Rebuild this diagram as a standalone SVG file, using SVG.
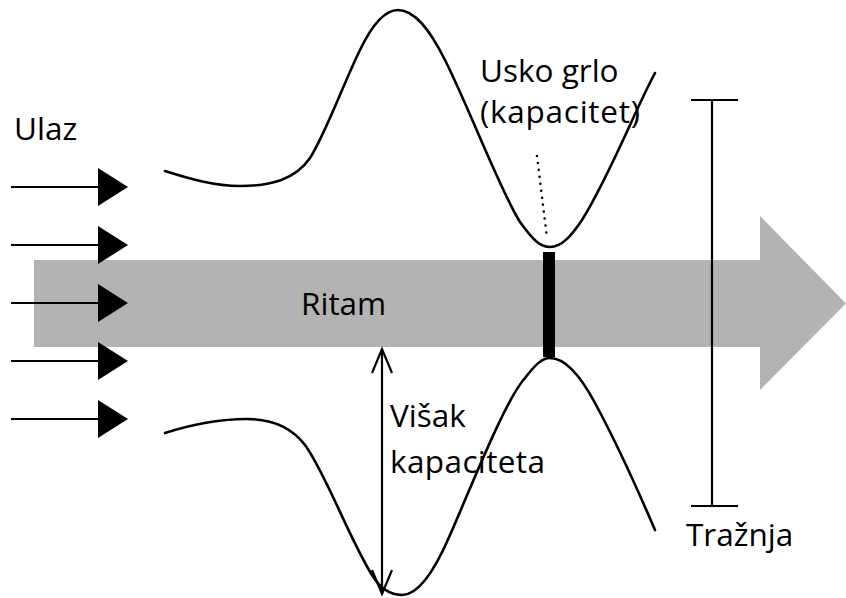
<svg xmlns="http://www.w3.org/2000/svg" width="846" height="598" viewBox="0 0 846 598">
<defs>
<style>
.t{font-family:"Open Sans","Liberation Sans",sans-serif;font-size:31.5px;fill:#000}
.ln{fill:none;stroke:#000;stroke-width:2.2}
.cv{fill:none;stroke:#000;stroke-width:2.6;stroke-linecap:round}
</style>
<polygon id="tri" points="0,-19 30,0 0,19" fill="#000"/>
</defs>
<rect width="846" height="598" fill="#fff"/>
<g id="flow">
<polygon points="34,260 760,260 760,216 846,303.5 760,390 760,347 34,347" fill="#b3b3b3"/>
<text class="t" x="301" y="315">Ritam</text>
</g>
<g id="inputs">
<line class="ln" x1="11" y1="187" x2="100" y2="187"/><use href="#tri" x="98" y="187"/>
<line class="ln" x1="11" y1="245" x2="100" y2="245"/><use href="#tri" x="98" y="245"/>
<line class="ln" x1="11" y1="303" x2="100" y2="303"/><use href="#tri" x="98" y="303"/>
<line class="ln" x1="11" y1="361" x2="100" y2="361"/><use href="#tri" x="98" y="361"/>
<line class="ln" x1="11" y1="419" x2="100" y2="419"/><use href="#tri" x="98" y="419"/>
<text class="t" x="14" y="140">Ulaz</text>
</g>
<g id="capacity">
<path class="cv" d="M165,171 C190,179 215,186 240,186 C270,186 295,180 310,158 C325,135 345,80 360,50 C372,25 385,10 398,10 C415,10 430,30 445,60 C470,110 500,190 520,222 C533,240 540,247 550,247 C562,247 572,235 582,220 C610,175 635,110 655,73"/>
<path class="cv" d="M165,433 C190,425 220,419 247,419 C272,419 292,428 305,445 C325,472 350,540 372,575 C380,588 390,595 402,595 C418,595 435,570 450,535 C470,490 505,400 525,378 C535,365 542,358 550,358 C565,358 580,375 595,403 C615,440 640,495 655,530"/>
</g>
<g id="bottleneck">
<rect x="543" y="252" width="12" height="105" fill="#000"/>
<line x1="537" y1="156" x2="547" y2="238" stroke="#000" stroke-width="2.6" stroke-dasharray="0 7" stroke-linecap="round"/>
<text class="t" x="480" y="82">Usko grlo</text>
<text class="t" x="480" y="123" textLength="160" lengthAdjust="spacing">(kapacitet)</text>
</g>
<g id="excess">
<line class="ln" x1="382" y1="349" x2="382" y2="594"/>
<polyline class="ln" points="372,373 382,349 392,373"/>
<polyline class="ln" points="372,570 382,594 392,570"/>
<text class="t" x="390" y="427">Višak</text>
<text class="t" x="390" y="473" textLength="155" lengthAdjust="spacing">kapaciteta</text>
</g>
<g id="demand">
<line class="ln" x1="712" y1="100" x2="712" y2="506"/>
<line class="ln" x1="691" y1="100" x2="738" y2="100"/>
<line class="ln" x1="691" y1="506" x2="738" y2="506"/>
<text class="t" x="686" y="546">Tražnja</text>
</g>
</svg>
